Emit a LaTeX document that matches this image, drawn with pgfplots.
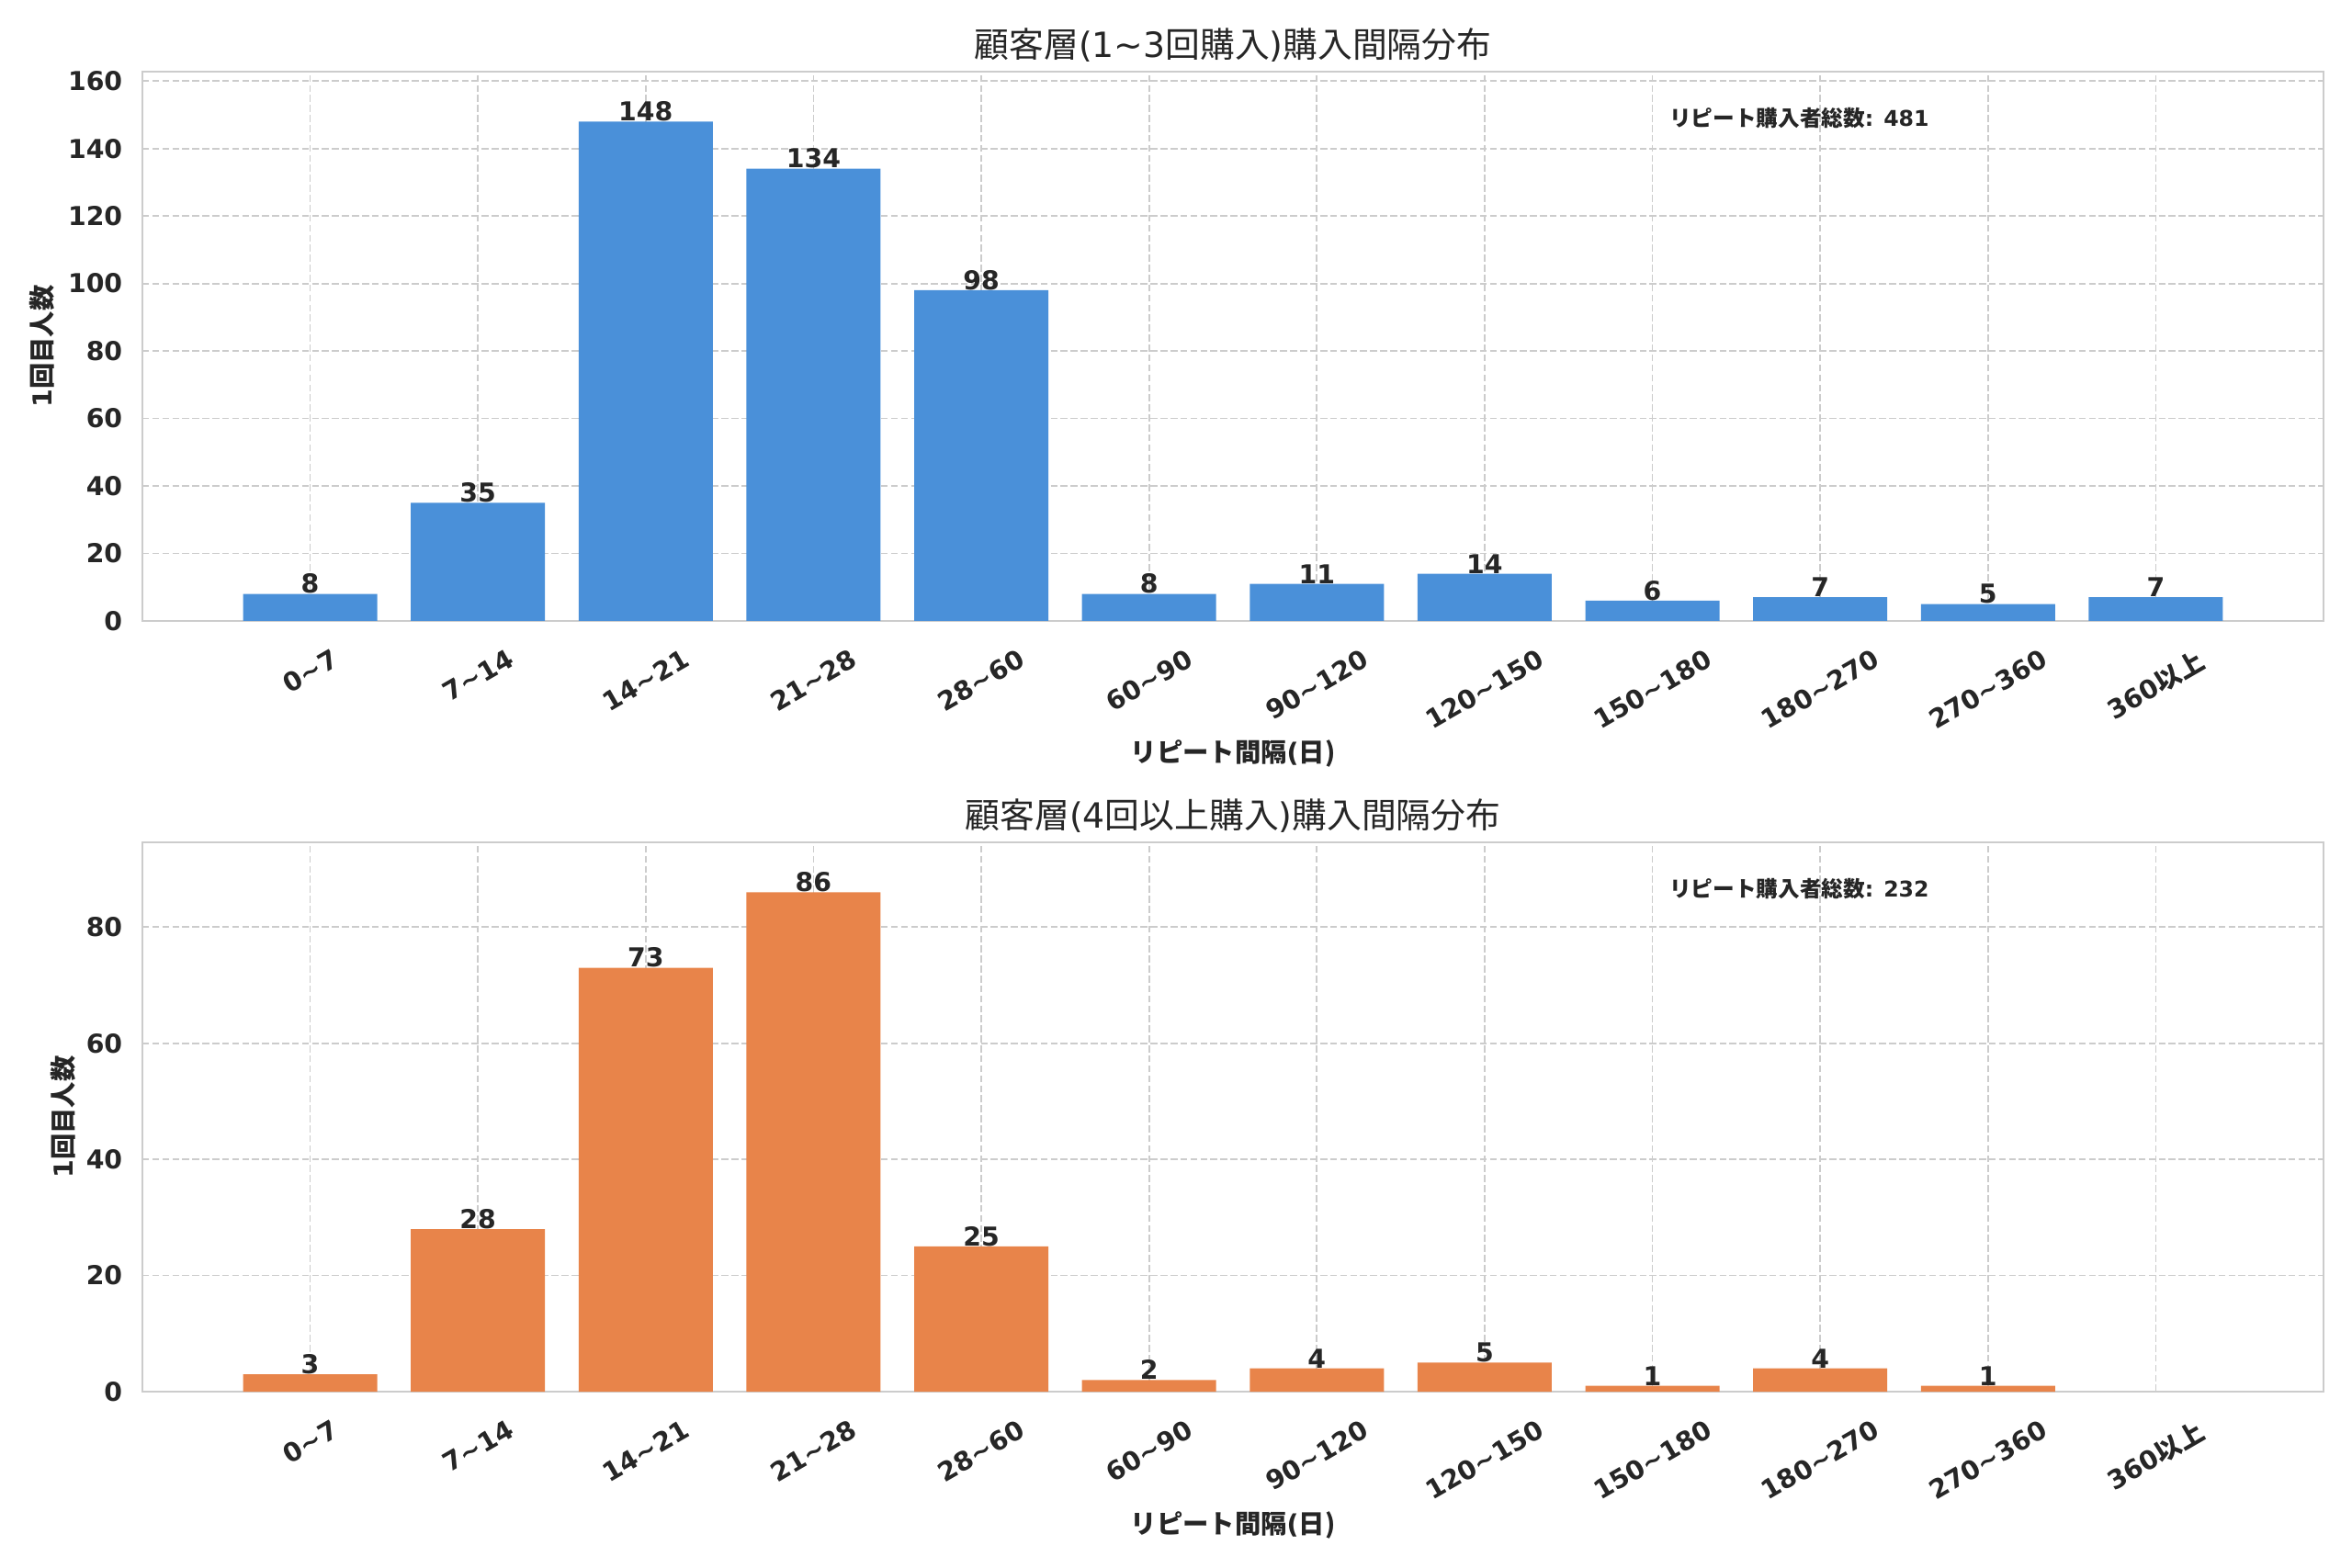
\documentclass[border=0pt]{standalone}
\usepackage{fontspec}
\setmainfont{DejaVu Sans}
\newfontfamily\jp{Noto Sans CJK JP}
\usepackage{graphicx}
\usepackage{pgfplots}
\pgfplotsset{compat=1.18}
\definecolor{barblue}{HTML}{4A90D9}
\definecolor{barorange}{HTML}{E8844A}
\definecolor{gridgray}{HTML}{CCCCCC}
\definecolor{txt}{HTML}{262626}
\newcommand{\R}[1]{\rotatebox{30}{#1}}
\newcommand{\tld}{\textasciitilde}

\pgfplotstableread{
x y
0 8
1 35
2 148
3 134
4 98
5 8
6 11
7 14
8 6
9 7
10 5
11 7
}\topdata
\pgfplotstableread{
x y
0 3
1 28
2 73
3 86
4 25
5 2
6 4
7 5
8 1
9 4
10 1
}\bottomdata

\pgfplotsset{
 mystyle/.style={
  scale only axis, width=1005.2pt, height=253.2pt,
  xmin=-1, xmax=12, ymin=0,
  xtick={0,...,11},
  xticklabels={\R{0\tld 7},\R{7\tld 14},\R{14\tld 21},\R{21\tld 28},\R{28\tld 60},\R{60\tld 90},\R{90\tld 120},\R{120\tld 150},\R{150\tld 180},\R{180\tld 270},\R{270\tld 360},\R{360{\jp\bfseries 以上}}},
  major tick length=0pt,
  grid=major,
  grid style={gridgray, line width=0.75pt, dash pattern=on 3.2pt off 1.4pt},
  axis line style={gridgray, line width=1pt},
  tick label style={font=\fontsize{12}{14}\selectfont\bfseries, text=txt},
  /pgf/number format/assume math mode=true,
  xticklabel style={anchor=north, inner sep=0pt, yshift=-12.3pt},
  yticklabel style={anchor=east, inner sep=0pt, xshift=-9pt},
  xlabel style={at={(axis description cs:0.5,-0.2425)}, anchor=center, font=\fontsize{12}{14}\selectfont\bfseries, text=txt},
  ylabel style={anchor=center, font=\fontsize{12}{14}\selectfont\bfseries, text=txt},
  every axis title shift=0pt,
  title style={at={(axis description cs:0.5,1.0486)}, anchor=center, font=\fontsize{16}{18}\selectfont, text=txt},
  xlabel={{\jp\bfseries リピート間隔}(\jp\bfseries 日)},
  ylabel={1{\jp\bfseries 回目人数}},
  ybar, bar width=0.8,
  nodes near coords,
  every node near coord/.append style={anchor=south, inner sep=0pt, font=\fontsize{12}{14}\selectfont\bfseries, text=txt},
 }
}

\begin{document}
\begin{tikzpicture}
\useasboundingbox (-65.6pt,-436.5pt) rectangle (1018.3pt,286.2pt);
\begin{axis}[mystyle,
  ymax=162.8, ytick={0,20,...,160},
  ylabel style={at={(axis description cs:-0.0459,0.5)}},
  title={{\jp 顧客層}(1\tld 3{\jp 回購入}){\jp 購入間隔分布}}]
\addplot[fill=barblue, draw=none] table[x=x,y=y] {\topdata};
\node[anchor=west, inner sep=0pt, font=\fontsize{10}{12}\selectfont\bfseries, text=txt] at (axis description cs:0.7,0.915) {{\jp\bfseries リピート購入者総数}: 481};
\end{axis}
\begin{axis}[mystyle, at={(0pt,-355.25pt)},
  ymax=94.6, ytick={0,20,...,80},
  ylabel style={at={(axis description cs:-0.0364,0.5)}},
  title={{\jp 顧客層}(4{\jp 回以上購入}){\jp 購入間隔分布}}]
\addplot[fill=barorange, draw=none] table[x=x,y=y] {\bottomdata};
\node[anchor=west, inner sep=0pt, font=\fontsize{10}{12}\selectfont\bfseries, text=txt] at (axis description cs:0.7,0.915) {{\jp\bfseries リピート購入者総数}: 232};
\end{axis}
\end{tikzpicture}
\end{document}
